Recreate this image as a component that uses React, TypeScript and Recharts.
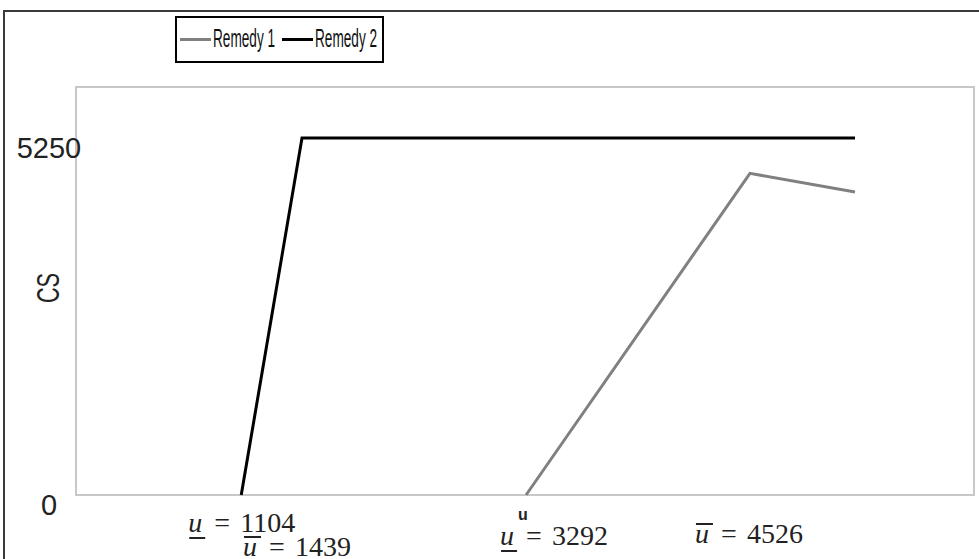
import { LineChart, Line, XAxis, YAxis, ReferenceArea, Label } from "recharts";

const SERIES_NAMES = ["Remedy 1", "Remedy 2"];
const SERIES_COLORS = ["#808080", "#000000"];

// points (x on a 0..6000 axis, y in CS)
const remedy1X = [3007, 4503, 5205];
const remedy1Y = [0, 4730, 4456];
const remedy2X = [1104, 1510, 5205];
const remedy2Y = [0, 5250, 5250];

const yTicks = [0, 5250];

// u markers on the x axis
const uTicks = [1104, 1510, 3007, 4503];
const uValues = ["1104", "1439", "3292", "4526"];
const uMarks = ["under", "over", "under", "over"];
const uPrime = [false, false, true, false];

// where each marker label starts / sits, relative to its tick
const uLayout = [
  { dx: -53, dy: 37 },
  { dx: -59, dy: 61 },
  { dx: -26, dy: 50 },
  { dx: -55, dy: 48 },
];

const W = 979;
const H = 559;

const remedy1 = remedy1X.map((x, i) => ({ x, y: remedy1Y[i] }));
const remedy2 = remedy2X.map((x, i) => ({ x, y: remedy2Y[i] }));

const serif = "'Liberation Serif', 'Times New Roman', serif";
const sans = "'Liberation Sans', Arial, sans-serif";

function UTick(props: any) {
  const { x, y, payload } = props;
  const i = uTicks.indexOf(payload.value);
  if (i < 0) return null;
  const L = x + uLayout[i].dx;
  const B = y + uLayout[i].dy;
  return (
    <g fill="#222">
      <text x={L} y={B} fontFamily={serif} fontStyle="italic" fontSize={28}>
        u
      </text>
      {uMarks[i] === "under" ? (
        <line x1={L + 1} x2={L + 17} y1={B + 6} y2={B + 6} stroke="#222" strokeWidth={2} />
      ) : (
        <line x1={L + 1} x2={L + 18} y1={B - 19} y2={B - 19} stroke="#222" strokeWidth={2} />
      )}
      {uPrime[i] && (
        <text x={L + 18} y={B - 25} fontFamily={sans} fontWeight="bold" fontSize={16}>
          u
        </text>
      )}
      <text x={L + 26} y={B} fontFamily={serif} fontSize={28}>
        =
      </text>
      <text x={L + 52} y={B} fontFamily={serif} fontSize={28}>
        {uValues[i]}
      </text>
    </g>
  );
}

function YTick(props: any) {
  const { y, payload } = props;
  return (
    <text
      x={49}
      y={y + 10}
      textAnchor="middle"
      dominantBaseline="central"
      fontFamily={sans}
      fontSize={29}
      fill="#222"
    >
      {payload.value}
    </text>
  );
}

function CSLabel(props: any) {
  const vb = props.viewBox || { x: 0, y: 87, width: 76, height: 408 };
  const cx = vb.x + 48;
  const cy = vb.y + vb.height / 2 - 3;
  return (
    <text
      transform={`translate(${cx},${cy}) rotate(-90) scale(0.68,1)`}
      textAnchor="middle"
      dominantBaseline="central"
      fontFamily={sans}
      fontSize={32}
      fill="#222"
    >
      CS
    </text>
  );
}

function LegendBox() {
  const items = [
    { lx: 180, tx: 213 },
    { lx: 282, tx: 315 },
  ];
  return (
    <svg
      width={W}
      height={80}
      style={{ position: "absolute", left: 0, top: 0, pointerEvents: "none" }}
    >
      <rect x={176} y={17} width={207} height={45} fill="#fff" stroke="#000" strokeWidth={2} />
      {SERIES_NAMES.map((name, i) => (
        <g key={name}>
          <line
            x1={items[i].lx}
            x2={items[i].lx + 31}
            y1={39.5}
            y2={39.5}
            stroke={SERIES_COLORS[i]}
            strokeWidth={3}
          />
          <text
            transform={`translate(${items[i].tx},47) scale(0.545,1)`}
            fontFamily={sans}
            fontSize={25}
            fill="#111"
          >
            {name}
          </text>
        </g>
      ))}
    </svg>
  );
}

export default function App() {
  return (
    <div
      style={{
        position: "absolute",
        left: 0,
        top: 0,
        width: W,
        height: H,
        overflow: "hidden",
        background: "#fff",
      }}
    >
      <div
        style={{
          position: "absolute",
          left: 3,
          top: 10,
          width: 1100,
          height: 700,
          border: "2px solid #3a3a3a",
        }}
      />
      <LineChart width={W} height={H} margin={{ top: 87, right: 5, bottom: 0, left: 0 }}>
        <XAxis
          dataKey="x"
          type="number"
          domain={[0, 6000]}
          ticks={uTicks}
          interval={0}
          height={64}
          axisLine={false}
          tickLine={false}
          tickSize={0}
          tickMargin={0}
          tick={UTick}
        />
        <YAxis
          type="number"
          domain={[0, 6000]}
          ticks={yTicks}
          interval={0}
          width={76}
          axisLine={false}
          tickLine={false}
          tickSize={0}
          tickMargin={0}
          tick={YTick}
        >
          <Label content={CSLabel} />
        </YAxis>
        <ReferenceArea
          x1={0}
          x2={6000}
          y1={0}
          y2={6000}
          fill="none"
          stroke="#c8c8c8"
          strokeWidth={2}
          fillOpacity={0}
        />
        <Line
          data={remedy1}
          dataKey="y"
          name={SERIES_NAMES[0]}
          stroke={SERIES_COLORS[0]}
          strokeWidth={3}
          dot={false}
          isAnimationActive={false}
        />
        <Line
          data={remedy2}
          dataKey="y"
          name={SERIES_NAMES[1]}
          stroke={SERIES_COLORS[1]}
          strokeWidth={3}
          dot={false}
          isAnimationActive={false}
        />
      </LineChart>
      <LegendBox />
    </div>
  );
}
